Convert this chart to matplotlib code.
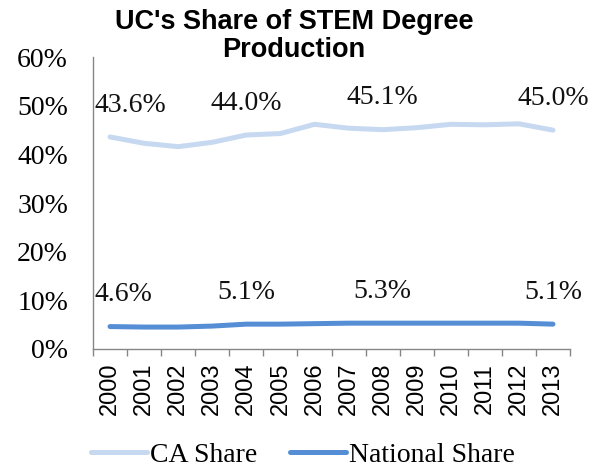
import matplotlib
matplotlib.use("Agg")
import matplotlib.pyplot as plt
from matplotlib.ticker import FixedLocator, NullFormatter

years = ["2000", "2001", "2002", "2003", "2004", "2005", "2006",
         "2007", "2008", "2009", "2010", "2011", "2012", "2013"]
ca_share = [43.6, 42.3, 41.6, 42.5, 44.0, 44.3, 46.2, 45.4, 45.1, 45.5, 46.2, 46.1, 46.3, 45.0]
national_share = [4.6, 4.5, 4.5, 4.7, 5.1, 5.1, 5.2, 5.3, 5.3, 5.3, 5.3, 5.3, 5.3, 5.1]
label_idx = [0, 4, 8, 13]
yticks = [0, 10, 20, 30, 40, 50, 60]
title = "UC's Share of STEM Degree\nProduction"

serif = "Liberation Serif"
sans = "Liberation Sans"

fig = plt.figure(figsize=(6.0, 4.69), dpi=100)
ax = fig.add_axes([0.155, 0.256, 0.795, 0.622])

x = list(range(len(years)))
ax.plot(x, ca_share, color="#C6D9F0", lw=3.6, solid_capstyle="round", label="CA Share")
ax.plot(x, national_share, color="#558ED5", lw=3.6, solid_capstyle="round", label="National Share")

for series in (ca_share, national_share):
    for i in label_idx:
        val = series[i]
        if i == 0:
            ax.annotate(f"{val:.1f}%", (x[i], val), xytext=(-11, 23), textcoords="offset points",
                        ha="left", va="center", fontsize=20, family=serif, color="#111111")
        else:
            ax.annotate(f"{val:.1f}%", (x[i], val), xytext=(0, 23), textcoords="offset points",
                        ha="center", va="center", fontsize=20, family=serif, color="#111111")

ax.set_xlim(-0.5, len(years) - 0.5)
ax.set_ylim(0, 60)
ax.set_yticks(yticks)
ax.set_yticklabels([f"{v}%" for v in yticks], family=serif, fontsize=20)
ax.tick_params(axis="y", length=0, pad=18)

ax.xaxis.set_major_locator(FixedLocator([i - 0.5 for i in range(len(years) + 1)]))
ax.xaxis.set_major_formatter(NullFormatter())
ax.xaxis.set_minor_locator(FixedLocator(x))
ax.set_xticklabels(years, minor=True, rotation=90, family=sans, fontsize=17)
ax.tick_params(axis="x", which="major", length=5, color="#868686", width=1)
ax.tick_params(axis="x", which="minor", length=0, pad=10)

for s in ("top", "right"):
    ax.spines[s].set_visible(False)
for s in ("left", "bottom"):
    ax.spines[s].set_color("#868686")
    ax.spines[s].set_linewidth(1)

fig.text(0.49, 0.923, title, ha="center", va="center", family=sans, fontweight="bold",
         fontsize=19.5, linespacing=1.1)

leg = fig.legend(loc="center", bbox_to_anchor=(0.505, 0.03), ncol=2, frameon=False,
                 prop={"family": serif, "size": 20}, handlelength=2.0, handletextpad=0.1,
                 columnspacing=1.2)

fig.savefig("out.png", dpi=100)
